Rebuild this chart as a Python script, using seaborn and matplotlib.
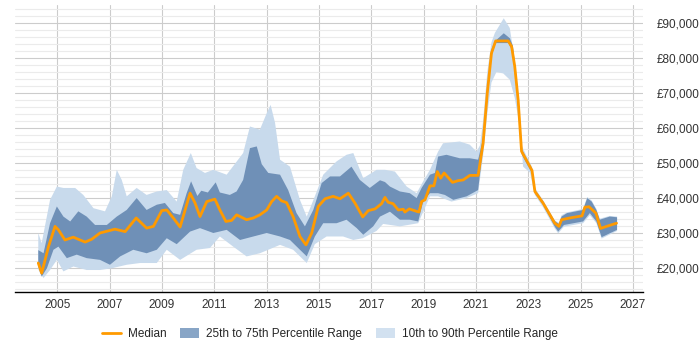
import numpy as np
import pandas as pd
import matplotlib
matplotlib.use("Agg")
import matplotlib.pyplot as plt
from matplotlib.patches import Patch
from matplotlib.lines import Line2D
from matplotlib.ticker import FuncFormatter, MultipleLocator
import seaborn as sns

# ---------------- data ----------------
median_t = [2004.27, 2004.40, 2004.66, 2004.91, 2005.04, 2005.29, 2005.61, 2006.06, 2006.31, 2006.63,
            2007.20, 2007.59, 2008.01, 2008.41, 2008.67, 2008.99, 2009.18, 2009.43, 2009.69, 2010.07,
            2010.26, 2010.45, 2010.71, 2011.02, 2011.21, 2011.44, 2011.66, 2011.85, 2012.23, 2012.49,
            2012.74, 2013.00, 2013.19, 2013.38, 2013.57, 2013.76, 2014.01, 2014.27, 2014.50, 2014.72,
            2014.97, 2015.23, 2015.54, 2015.80, 2016.12, 2016.37, 2016.67, 2016.88, 2017.14, 2017.39,
            2017.52, 2017.64, 2017.83, 2018.03, 2018.22, 2018.28, 2018.45, 2018.73, 2018.82, 2018.92,
            2019.05, 2019.24, 2019.39, 2019.52, 2019.65, 2019.78, 2020.10, 2020.32, 2020.51, 2020.76,
            2021.08, 2021.27, 2021.43, 2021.59, 2021.75, 2022.23, 2022.36, 2022.48, 2022.61, 2022.74,
            2022.93, 2023.14, 2023.25, 2023.56, 2024.01, 2024.17, 2024.27, 2024.58, 2025.05, 2025.16,
            2025.32, 2025.58, 2025.76, 2025.99, 2026.37]
median_v = [21300, 18400, 26000, 31800, 30800, 27900, 28700, 27300, 28100, 29900,
            31000, 30300, 34200, 31300, 31800, 36300, 36500, 34200, 31600, 41300,
            38500, 34600, 38900, 39600, 36500, 33200, 33500, 35100, 33700, 34200,
            35100, 36500, 38900, 40400, 39100, 38600, 34600, 28900, 26500, 29900,
            37500, 39700, 40400, 39700, 41300, 38500, 34500, 36300, 36800, 38300,
            40100, 38700, 38300, 36500, 36700, 35900, 36800, 36100, 35900, 38900,
            39400, 43400, 43400, 47500, 45600, 47100, 44400, 44900, 45100, 46400,
            46400, 55600, 70000, 81400, 84900, 84900, 83300, 77600, 68000, 53300,
            50700, 47800, 41800, 38500, 32700, 31800, 33700, 34200, 34800, 37300,
            37400, 35600, 31200, 31800, 32700]

p75_t = [2004.27, 2004.47, 2004.72, 2004.98, 2005.23, 2005.49, 2005.80, 2006.12, 2006.44, 2006.89,
         2007.27, 2007.65, 2008.03, 2008.41, 2008.80, 2009.11, 2009.43, 2009.69, 2009.94, 2010.11,
         2010.35, 2010.50, 2010.75, 2011.05, 2011.21, 2011.59, 2011.85, 2012.10, 2012.36, 2012.62,
         2012.81, 2013.06, 2013.51, 2013.82, 2014.14, 2014.46, 2014.78, 2015.10, 2015.42, 2015.80,
         2016.24, 2016.56, 2016.94, 2017.33, 2017.52, 2017.71, 2018.09, 2018.47, 2018.73, 2018.92,
         2019.24, 2019.43, 2019.55, 2019.87, 2020.38, 2020.76, 2021.08, 2021.27, 2021.43, 2021.59,
         2021.72, 2022.06, 2022.29, 2022.41, 2022.48, 2022.61, 2022.74, 2022.93, 2023.14, 2023.25,
         2023.56, 2024.01, 2024.17, 2024.27, 2024.48, 2025.09, 2025.25, 2025.42, 2025.60, 2025.73,
         2026.11, 2026.39]
p75_v = [25000, 24100, 32700, 37500, 34600, 33200, 36100, 34600, 32200, 32200,
         34600, 36500, 39900, 36500, 38000, 38500, 35600, 35100, 41300, 44700,
         40500, 42000, 41500, 44400, 41500, 40800, 41800, 45100, 54200, 54700,
         49600, 47100, 46600, 42200, 35600, 31800, 36500, 44200, 46100, 46100,
         48900, 45100, 42800, 45000, 44500, 43200, 41800, 41300, 39900, 42800,
         46600, 47100, 51800, 52300, 51300, 51300, 50900, 57000, 72000, 82500,
         84800, 87100, 85700, 83500, 78500, 69000, 54000, 51300, 48300, 42300,
         39000, 33300, 32500, 34600, 35600, 36500, 39900, 38900, 36500, 33700,
         34600, 34400]

p25_t = [2004.27, 2004.40, 2004.60, 2004.85, 2005.04, 2005.36, 2005.74, 2006.12, 2006.63, 2007.01,
         2007.40, 2007.90, 2008.41, 2008.80, 2009.18, 2009.56, 2010.07, 2010.45, 2010.96, 2011.47,
         2011.98, 2012.49, 2013.00, 2013.51, 2013.89, 2014.27, 2014.53, 2014.84, 2015.16, 2015.67,
         2016.05, 2016.44, 2016.69, 2017.07, 2017.33, 2017.71, 2018.09, 2018.47, 2018.79, 2018.98,
         2019.24, 2019.55, 2019.81, 2020.13, 2020.64, 2021.08, 2021.27, 2021.43, 2021.59, 2021.75,
         2022.23, 2022.36, 2022.48, 2022.61, 2022.74, 2022.93, 2023.14, 2023.25, 2023.56, 2024.01,
         2024.14, 2024.36, 2025.09, 2025.35, 2025.60, 2025.80, 2026.39]
p25_v = [20300, 17400, 19800, 25100, 26000, 22700, 23700, 22700, 22200, 20800,
         23200, 25100, 24100, 25100, 28400, 26700, 30300, 31300, 29900, 30800,
         27900, 28900, 29900, 28900, 27900, 25100, 23200, 28900, 32700, 32700,
         33700, 31300, 29400, 31800, 34600, 36000, 33700, 33700, 33200, 38900,
         41300, 41300, 40800, 39400, 40400, 42200, 54500, 68500, 80500, 84300,
         84300, 82500, 76500, 67000, 52500, 49800, 47000, 41300, 38000, 31700,
         30300, 32200, 33200, 35600, 33200, 28700, 30800]

p90_t = [2004.27, 2004.40, 2004.72, 2004.98, 2005.23, 2005.68, 2005.99, 2006.38, 2006.82, 2007.08,
         2007.27, 2007.46, 2007.65, 2008.03, 2008.41, 2008.80, 2009.18, 2009.56, 2009.81, 2010.10,
         2010.32, 2010.64, 2010.96, 2011.47, 2012.10, 2012.36, 2012.74, 2013.00, 2013.15, 2013.32,
         2013.51, 2013.89, 2014.27, 2014.53, 2014.84, 2015.16, 2015.67, 2016.05, 2016.31, 2016.69,
         2017.20, 2017.52, 2017.90, 2018.35, 2018.73, 2018.98, 2019.24, 2019.55, 2019.74, 2020.38,
         2020.76, 2021.02, 2021.15, 2021.27, 2021.43, 2021.59, 2021.72, 2022.06, 2022.29, 2022.48,
         2022.61, 2022.74, 2022.93, 2023.14, 2023.25, 2023.56, 2024.01, 2024.17, 2024.27, 2024.48,
         2025.09, 2025.25, 2025.42, 2025.60, 2025.73, 2026.11, 2026.39]
p90_v = [29900, 27000, 39400, 43200, 42800, 42800, 40800, 37000, 36100, 40400,
         48000, 45100, 40400, 42800, 40800, 41800, 42200, 38900, 48000, 52800,
         48500, 47100, 48000, 46600, 52800, 60400, 59500, 64200, 66600, 61400,
         50900, 48900, 39400, 34600, 40400, 46600, 50400, 52300, 52800, 45600,
         48000, 48000, 47500, 43200, 41300, 44700, 48000, 53200, 55600, 56100,
         55200, 53200, 55000, 62000, 76000, 84500, 87200, 91400, 88600, 79400,
         70000, 55000, 52000, 48800, 42800, 39300, 33500, 32800, 35000, 35800,
         36800, 40200, 39200, 36800, 34000, 34800, 34600]

p10_t = [2004.27, 2004.34, 2004.47, 2004.72, 2004.98, 2005.23, 2005.61, 2006.12, 2006.63, 2007.08,
         2007.65, 2008.16, 2008.80, 2009.18, 2009.69, 2010.32, 2010.83, 2011.21, 2011.72, 2012.23,
         2012.74, 2013.51, 2014.01, 2014.53, 2014.84, 2015.29, 2015.92, 2016.31, 2016.67, 2017.20,
         2017.45, 2018.09, 2018.79, 2019.24, 2019.55, 2020.06, 2020.64, 2021.08, 2021.27, 2021.43,
         2021.59, 2021.78, 2022.04, 2022.29, 2022.48, 2022.67, 2022.80, 2023.06, 2023.25, 2023.56,
         2024.01, 2024.14, 2024.36, 2025.09, 2025.35, 2025.60, 2025.80, 2026.39]
p10_v = [19500, 18400, 17000, 19300, 22200, 18900, 20300, 19300, 19300, 19800,
         20800, 21300, 21300, 25100, 22200, 25100, 25600, 28900, 26000, 23200,
         24100, 26500, 25100, 21300, 26700, 28900, 28900, 27900, 28400, 30500,
         32500, 31800, 32700, 40400, 40400, 38900, 39900, 41300, 52000, 64000,
         73000, 76000, 75600, 73800, 68600, 60400, 48900, 47200, 40800, 37300,
         31200, 29800, 31700, 32700, 35000, 32700, 28300, 30500]

x_ticks = [2005, 2007, 2009, 2011, 2013, 2015, 2017, 2019, 2021, 2023, 2025, 2027]
y_ticks = [20000, 30000, 40000, 50000, 60000, 70000, 80000, 90000]
legend_labels = ["Median", "25th to 75th Percentile Range", "10th to 90th Percentile Range"]

# ---------------- style ----------------
sns.set_theme(style="white")
plt.rcParams["font.family"] = ["Liberation Sans", "DejaVu Sans"]

LIGHT = "#c8daec"
DARK = "#6f90b7"
ORANGE = "#ff9a00"

fig = plt.figure(figsize=(7, 3.5), dpi=100)
ax = fig.add_axes([15 / 700, 58 / 350, (642.7 - 15) / 700, (292 - 5) / 350])

# bands as polygons (upper series then reversed lower series)
ax.fill(np.concatenate([p90_t, p10_t[::-1]]), np.concatenate([p90_v, p10_v[::-1]]),
        color=LIGHT, lw=0, zorder=2)
ax.fill(np.concatenate([p75_t, p25_t[::-1]]), np.concatenate([p75_v, p25_v[::-1]]),
        color=DARK, lw=0, zorder=3)

med = pd.DataFrame({"t": median_t, "v": median_v})
sns.lineplot(data=med, x="t", y="v", ax=ax, color=ORANGE, lw=2, zorder=4)

ax.set_xlim(2003.38, 2027.37)
ax.set_ylim(13000, 95200)
ax.set_xticks(x_ticks)
ax.set_xticklabels([str(x) for x in x_ticks])
ax.set_yticks(y_ticks)
ax.yaxis.set_minor_locator(MultipleLocator(2000))
ax.yaxis.set_major_formatter(FuncFormatter(lambda v, p: f"£{int(v):,}"))
ax.yaxis.tick_right()
ax.set_xlabel("")
ax.set_ylabel("")

ax.grid(True, which="major", axis="both", color="#cccccc", lw=0.8, zorder=0)
ax.grid(True, which="minor", axis="y", color="#ebebeb", lw=0.8, zorder=0)
ax.set_axisbelow(True)

for s in ["top", "right", "left"]:
    ax.spines[s].set_visible(False)
ax.spines["bottom"].set_color("#000000")
ax.spines["bottom"].set_linewidth(1.0)
ax.tick_params(axis="both", which="both", length=0, labelsize=8.5, colors="#333333")
ax.tick_params(axis="y", pad=10)
ax.tick_params(axis="x", pad=5)

handles = [Line2D([0], [0], color=ORANGE, lw=2),
           Patch(facecolor="#88a5c6", edgecolor="none"),
           Patch(facecolor="#d2e1f0", edgecolor="none")]
fig.legend(handles, legend_labels, loc="center", bbox_to_anchor=(330 / 700, 1 - 334 / 350),
           ncol=3, frameon=False, fontsize=8.5, handlelength=1.6, handleheight=1.0,
           columnspacing=1.2, handletextpad=0.6)

fig.savefig("out.png", dpi=100)
